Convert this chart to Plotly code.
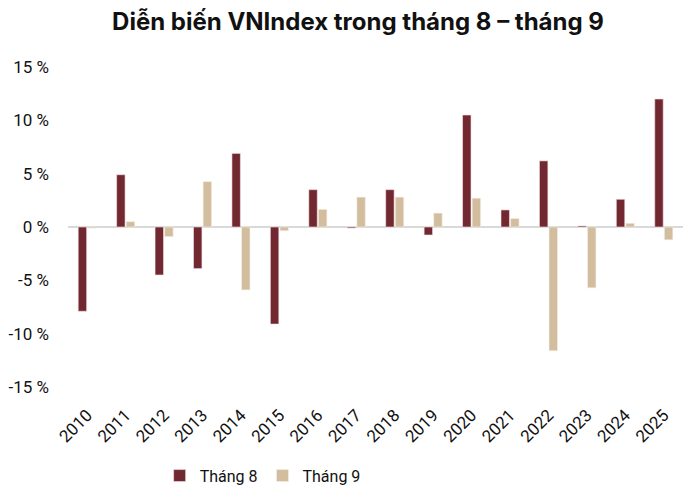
import plotly.graph_objects as go

years = [str(y) for y in range(2010, 2026)]

thang_8 = [-7.9, 4.9, -4.5, -3.9, 6.9, -9.1, 3.5, -0.1,
           3.5, -0.75, 10.5, 1.6, 6.2, 0.1, 2.6, 12.0]
thang_9 = [-0.1, 0.5, -0.9, 4.25, -5.9, -0.35, 1.65, 2.8,
           2.8, 1.3, 2.7, 0.8, -11.6, -5.7, 0.35, -1.2]

y_ticks = [15, 10, 5, 0, -5, -10, -15]
y_tick_labels = ["15 %", "10 %", "5 %", "0 %", "-5 %", "-10 %", "-15 %"]

fig = go.Figure()
fig.add_trace(go.Bar(
    x=years, y=thang_8, name="Tháng 8",
    marker=dict(color="#722830", line=dict(color="#f3e6e6", width=0.6))
))
fig.add_trace(go.Bar(
    x=years, y=thang_9, name="Tháng 9",
    marker=dict(color="#d3bd9f", line=dict(color="#f7efe4", width=0.6))
))

fig.update_layout(
    width=700, height=499,
    paper_bgcolor="white", plot_bgcolor="white",
    font=dict(family="Roboto", size=17, color="#111111"),
    title=dict(
        text="<b>Diễn biến VNIndex trong tháng 8 – tháng 9</b>",
        x=0.5, xanchor="center", y=0.972, yanchor="middle",
        font=dict(family="Inter", size=24, color="#111111")
    ),
    margin=dict(l=60, r=25, t=59, b=120, autoexpand=False),
    barmode="group", bargap=0.5, bargroupgap=0.12,
    showlegend=True,
    legend=dict(
        orientation="h", x=0.149, xanchor="left", y=-0.224, yanchor="top",
        font=dict(size=16), itemwidth=30
    ),
)
fig.update_xaxes(
    type="category", tickangle=-45, showgrid=False, showline=False,
    ticks="", tickfont=dict(size=17), ticklabelstandoff=14, automargin=False
)
fig.update_yaxes(
    range=[-15, 15], tickvals=y_ticks, ticktext=y_tick_labels,
    showgrid=False, zeroline=True, zerolinecolor="#d9d9d9", zerolinewidth=1.5,
    ticks="", tickfont=dict(size=17), ticklabelstandoff=18, automargin=False
)

fig.write_html("out.html")
